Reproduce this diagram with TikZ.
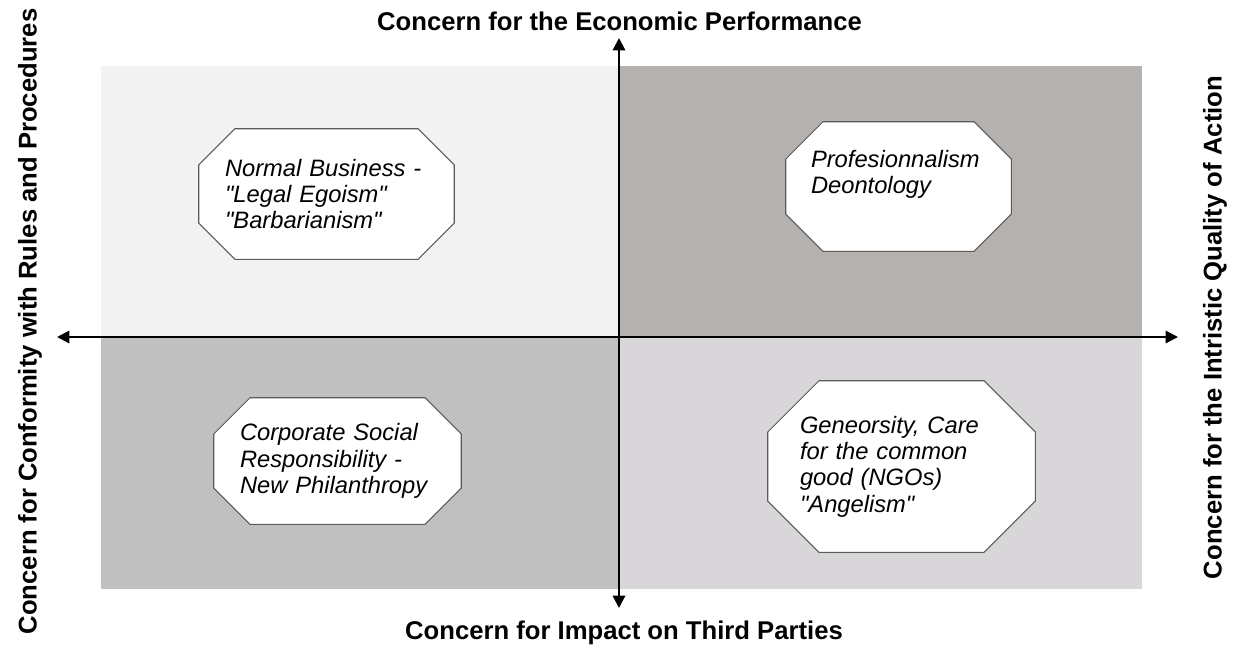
\documentclass[tikz,border=0pt]{standalone}
\usepackage{fontspec}
\setmainfont{Liberation Sans}[Ligatures=TeXOff]
\usetikzlibrary{arrows.meta}
\definecolor{quadTL}{HTML}{F2F2F2}
\definecolor{quadTR}{HTML}{B4B1AF}
\definecolor{quadBL}{HTML}{C0C0C0}
\definecolor{quadBR}{HTML}{D8D6D8}
\definecolor{octline}{HTML}{5A5A5A}
\begin{document}
\begin{tikzpicture}[x=0.02cm,y=-0.02cm,
    axis/.style={line width=1.2pt,{Triangle[length=7pt,width=7pt]}-{Triangle[length=7pt,width=7pt]}},
    axislabel/.style={font=\fontsize{14.6}{16}\selectfont\bfseries,inner sep=0pt},
    octcut/.store in=\octcut, octcut=0.74cm,
    octagon/.style={rectangle,inner sep=0pt,text width=4.06cm,align=left,
      font=\fontsize{13.5}{15}\selectfont\itshape,
      path picture={
        \filldraw[draw=octline,fill=white,line width=0.6pt]
          ([xshift=\octcut,yshift=-0.4pt]path picture bounding box.north west)
          -- ([xshift=-\octcut,yshift=-0.4pt]path picture bounding box.north east)
          -- ([xshift=-0.4pt,yshift=-\octcut]path picture bounding box.north east)
          -- ([xshift=-0.4pt,yshift=\octcut]path picture bounding box.south east)
          -- ([xshift=-\octcut,yshift=0.4pt]path picture bounding box.south east)
          -- ([xshift=\octcut,yshift=0.4pt]path picture bounding box.south west)
          -- ([xshift=0.4pt,yshift=\octcut]path picture bounding box.south west)
          -- ([xshift=0.4pt,yshift=-\octcut]path picture bounding box.north west)
          -- cycle;}}]
    \useasboundingbox (0,0) rectangle (1238,647);

    % quadrants
    \fill[quadTL] (101,66)  rectangle (619,337);
    \fill[quadTR] (619,66)  rectangle (1142,337);
    \fill[quadBL] (101,337) rectangle (619,589);
    \fill[quadBR] (619,337) rectangle (1142,589);

    \coordinate (W) at (57,337);
    \coordinate (E) at (1178,337);
    \coordinate (N) at (619,38);
    \coordinate (S) at (619,608);
    \draw[axis] (W) -- (E);
    \draw[axis] (N) -- (S);

    \node[axislabel] (top)    at (619.5,21) {Concern for the Economic Performance};
    \node[axislabel] (bottom) at (624,633)  {Concern for Impact on Third Parties};
    \node[axislabel,rotate=90]  (left)  at (30,321.5)   {Concern for Conformity with Rules and Procedures};
    \node[axislabel,rotate=90]  (right) at (1215,327.5) {Concern for the Intristic Quality of Action};

    \node[octagon,minimum width=5.14cm,minimum height=2.64cm,octcut=0.74cm] (business) at (326.5,194)
      {Normal Business -\\"Legal Egoism"\\"Barbarianism"};
    \node[octagon,minimum width=4.54cm,minimum height=2.62cm,octcut=0.76cm,text width=3.5cm,text depth=1.12cm] (profession) at (898.5,186.5)
      {Profesionnalism\\Deontology};
    \node[octagon,minimum width=4.98cm,minimum height=2.56cm,octcut=0.74cm,text width=3.9cm] (csr) at (337.5,461)
      {Corporate Social\\Responsibility -\\New Philanthropy};
    \node[octagon,minimum width=5.38cm,minimum height=3.46cm,octcut=1.04cm] (generosity) at (901.5,466.5)
      {Geneorsity, Care\\for the common\\good (NGOs)\\"Angelism"};
\end{tikzpicture}
\end{document}
